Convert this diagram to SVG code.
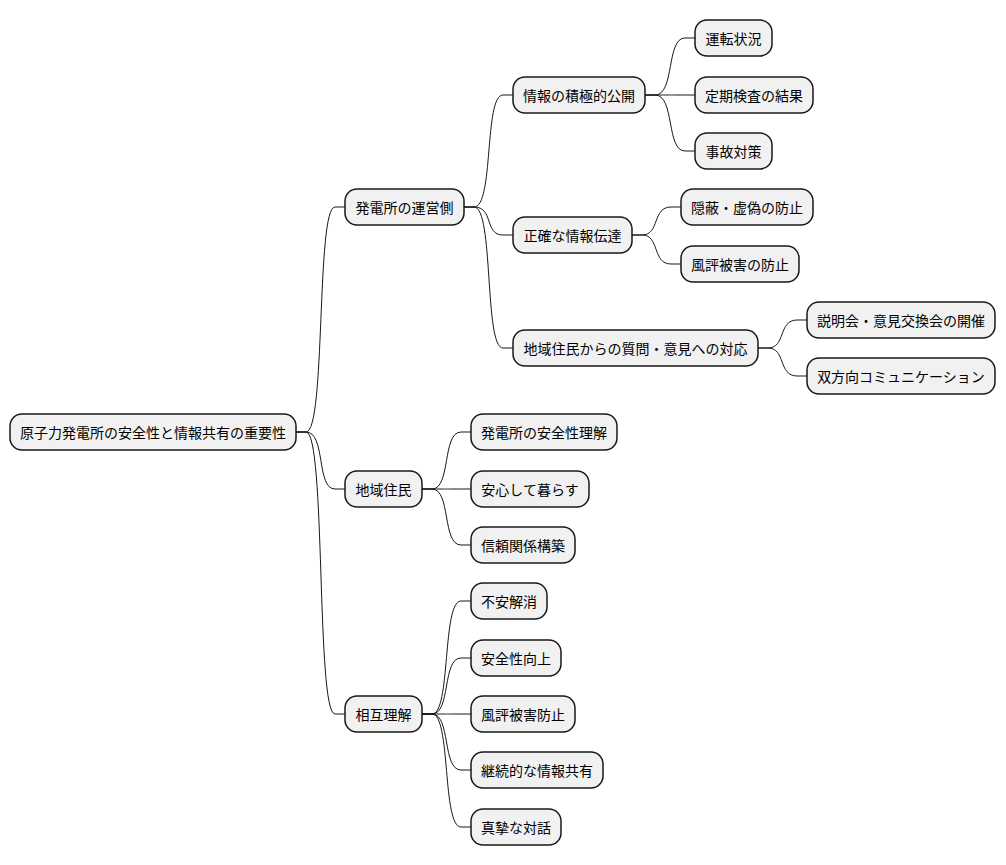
<svg xmlns="http://www.w3.org/2000/svg" width="1006" height="865" viewBox="0 0 1006 865">
<style>
.n rect{fill:#F1F1F1;stroke:#181818;stroke-width:1.5}
.n text{font-family:"Noto Sans CJK JP","Noto Sans",sans-serif;font-size:14px;fill:#000;text-anchor:middle;dominant-baseline:central}
#edges path{fill:none;stroke:#181818;stroke-width:1}
</style>
<rect width="1006" height="865" fill="#fff"/>
<g id="edges">
<path d="M296,432 H306 C326,432 316,207 335,207 H345"/>
<path d="M296,432 H306 C326,432 316,489 335,489 H345"/>
<path d="M296,432 H306 C326,432 316,714 335,714 H345"/>
<path d="M464,207 H474 C494,207 484,95 503,95 H513"/>
<path d="M464,207 H474 C494,207 484,235 503,235 H513"/>
<path d="M464,207 H474 C494,207 484,348 503,348 H513"/>
<path d="M645,95 H655 C675,95 666,38 685,38 H695"/>
<path d="M645,95 H655 C675,95 666,95 685,95 H695"/>
<path d="M645,95 H655 C675,95 666,151 685,151 H695"/>
<path d="M632,235 H642 C660,235 652,207 671,207 H681"/>
<path d="M632,235 H642 C660,235 652,264 671,264 H681"/>
<path d="M758,348 H768 C786,348 778,320 797,320 H807"/>
<path d="M758,348 H768 C786,348 778,376 797,376 H807"/>
<path d="M422,489 H432 C451,489 442,432 461,432 H471"/>
<path d="M422,489 H432 C451,489 442,489 461,489 H471"/>
<path d="M422,489 H432 C451,489 442,545 461,545 H471"/>
<path d="M422,714 H432 C451,714 442,601 461,601 H471"/>
<path d="M422,714 H432 C451,714 442,658 461,658 H471"/>
<path d="M422,714 H432 C451,714 442,714 461,714 H471"/>
<path d="M422,714 H432 C451,714 442,770 461,770 H471"/>
<path d="M422,714 H432 C451,714 442,827 461,827 H471"/>
</g>
<g id="root" class="n"><rect x="10" y="414" width="286" height="36" rx="12"/><text x="153" y="432">原子力発電所の安全性と情報共有の重要性</text></g>
<g id="n1" class="n"><rect x="345" y="189" width="119" height="36" rx="12"/><text x="404.5" y="207">発電所の運営側</text></g>
<g id="n2" class="n"><rect x="345" y="471" width="77" height="36" rx="12"/><text x="383.5" y="489">地域住民</text></g>
<g id="n3" class="n"><rect x="345" y="696" width="77" height="36" rx="12"/><text x="383.5" y="714">相互理解</text></g>
<g id="n11" class="n"><rect x="513" y="77" width="132" height="36" rx="12"/><text x="579" y="95">情報の積極的公開</text></g>
<g id="n12" class="n"><rect x="513" y="217" width="119" height="36" rx="12"/><text x="572.5" y="235">正確な情報伝達</text></g>
<g id="n13" class="n"><rect x="513" y="330" width="245" height="36" rx="12"/><text x="635.5" y="348">地域住民からの質問・意見への対応</text></g>
<g id="n111" class="n"><rect x="695" y="20" width="77" height="36" rx="12"/><text x="733.5" y="38">運転状況</text></g>
<g id="n112" class="n"><rect x="695" y="77" width="118" height="36" rx="12"/><text x="754" y="95">定期検査の結果</text></g>
<g id="n113" class="n"><rect x="695" y="133" width="77" height="36" rx="12"/><text x="733.5" y="151">事故対策</text></g>
<g id="n121" class="n"><rect x="681" y="189" width="132" height="36" rx="12"/><text x="747" y="207">隠蔽・虚偽の防止</text></g>
<g id="n122" class="n"><rect x="681" y="246" width="118" height="36" rx="12"/><text x="740" y="264">風評被害の防止</text></g>
<g id="n131" class="n"><rect x="807" y="302" width="188" height="36" rx="12"/><text x="901" y="320">説明会・意見交換会の開催</text></g>
<g id="n132" class="n"><rect x="807" y="358" width="188" height="36" rx="12"/><text x="901" y="376">双方向コミュニケーション</text></g>
<g id="n21" class="n"><rect x="471" y="414" width="146" height="36" rx="12"/><text x="544" y="432">発電所の安全性理解</text></g>
<g id="n22" class="n"><rect x="471" y="471" width="118" height="36" rx="12"/><text x="530" y="489">安心して暮らす</text></g>
<g id="n23" class="n"><rect x="471" y="527" width="104" height="36" rx="12"/><text x="523" y="545">信頼関係構築</text></g>
<g id="n31" class="n"><rect x="471" y="583" width="76" height="36" rx="12"/><text x="509" y="601">不安解消</text></g>
<g id="n32" class="n"><rect x="471" y="640" width="90" height="36" rx="12"/><text x="516" y="658">安全性向上</text></g>
<g id="n33" class="n"><rect x="471" y="696" width="104" height="36" rx="12"/><text x="523" y="714">風評被害防止</text></g>
<g id="n34" class="n"><rect x="471" y="752" width="132" height="36" rx="12"/><text x="537" y="770">継続的な情報共有</text></g>
<g id="n35" class="n"><rect x="471" y="809" width="90" height="36" rx="12"/><text x="516" y="827">真摯な対話</text></g>
</svg>
